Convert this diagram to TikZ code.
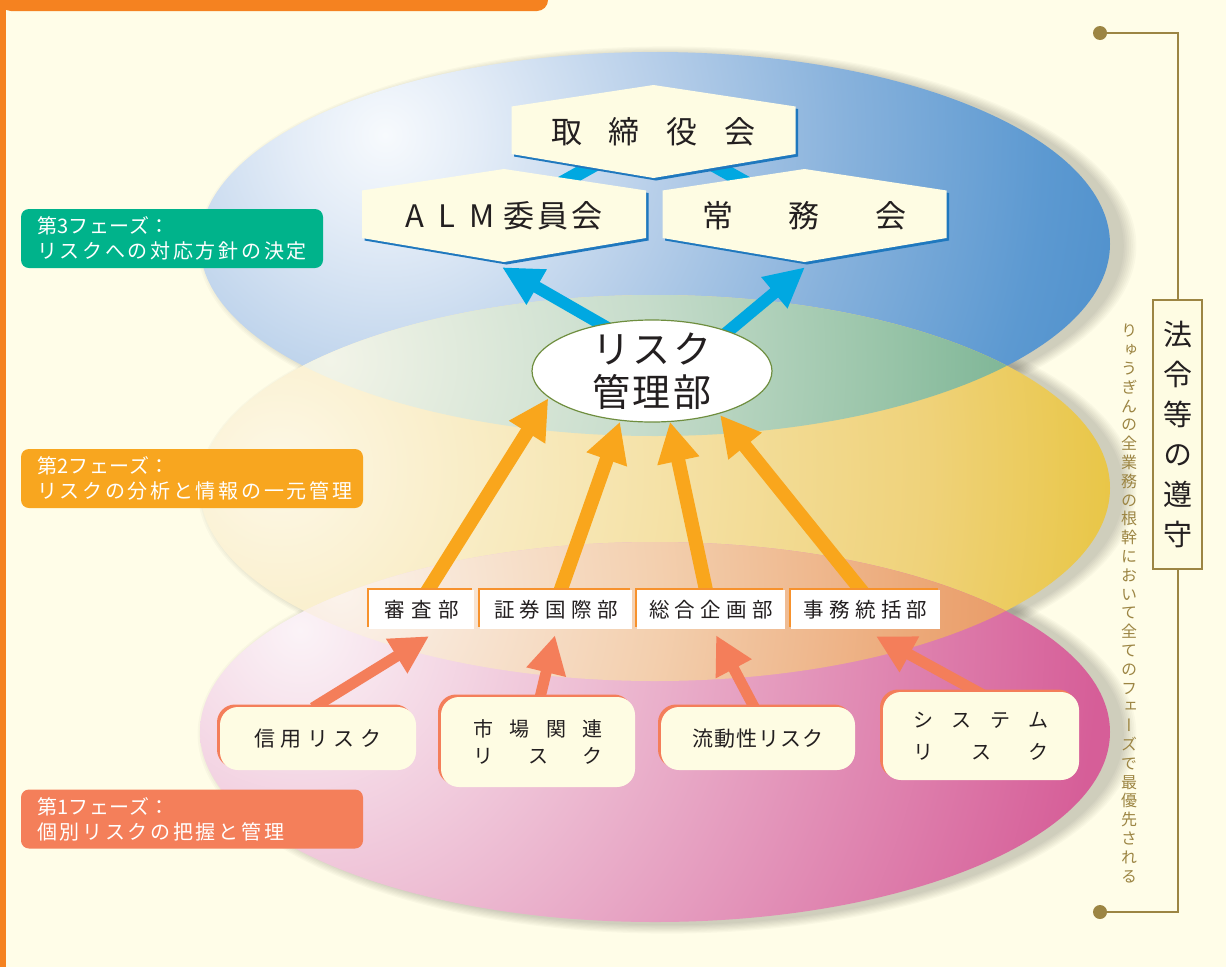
\documentclass[tikz,border=0pt]{standalone}
\usepackage{fontspec}
\setmainfont{Noto Sans CJK JP}
\newfontfamily\vjp[RawFeature=+vert]{Noto Sans CJK JP}
\usetikzlibrary{arrows.meta,shadows,shapes.geometric}

\definecolor{bg}{HTML}{FFFDE8}
\definecolor{ink}{HTML}{231F20}
\definecolor{cream}{HTML}{FEFCE3}
\definecolor{hdr}{HTML}{F58220}
\definecolor{hexblue}{HTML}{1F78BE}
\definecolor{cyanA}{HTML}{00A8E1}
\definecolor{orA}{HTML}{F9A61C}
\definecolor{salA}{HTML}{F47E5A}
\definecolor{deptor}{HTML}{F7922D}
\definecolor{olive}{HTML}{9C8543}
\definecolor{rkline}{HTML}{6F8E3F}
\definecolor{ph3}{HTML}{00B38B}
\definecolor{ph2}{HTML}{F8A61F}
\definecolor{ph1}{HTML}{F47F5A}

\definecolor{b0}{HTML}{F7FAFD}
\definecolor{b1}{HTML}{E3ECF7}
\definecolor{b2}{HTML}{B6CEE9}
\definecolor{b3}{HTML}{88B2DC}
\definecolor{b4}{HTML}{5C99D1}
\definecolor{b5}{HTML}{4A8DCA}
\definecolor{g0}{HTML}{F2F4E8}
\definecolor{g1}{HTML}{C6DCCB}
\definecolor{g2}{HTML}{98C4A8}
\definecolor{g3}{HTML}{66A886}
\definecolor{y0}{HTML}{FDF8E6}
\definecolor{y1}{HTML}{F5E2A8}
\definecolor{y2}{HTML}{EFD27A}
\definecolor{y3}{HTML}{E8C542}
\definecolor{o0}{HTML}{FBF3EC}
\definecolor{o1}{HTML}{F3CFAE}
\definecolor{o2}{HTML}{EBA472}
\definecolor{o3}{HTML}{E68D58}
\definecolor{k0}{HTML}{FBF3F7}
\definecolor{k1}{HTML}{ECB8D0}
\definecolor{k2}{HTML}{E088B2}
\definecolor{k3}{HTML}{D65E98}

% a circle of radius R drawn with \shade maps 25bp to R; all circles use R = 1000 (40 px per bp)
\pgfdeclareradialshading{blueS}{\pgfpointorigin}{color(0bp)=(b0); color(2.4bp)=(b1); color(7bp)=(b2); color(11.5bp)=(b3); color(16.5bp)=(b4); color(20bp)=(b5); color(50bp)=(b5)}
\pgfdeclareradialshading{greenS}{\pgfpointorigin}{color(0bp)=(g0); color(8bp)=(g1); color(14bp)=(g2); color(20bp)=(g3); color(50bp)=(g3)}
\pgfdeclareradialshading{yellowS}{\pgfpointorigin}{color(0bp)=(y0); color(9.3bp)=(y1); color(16.2bp)=(y2); color(21.2bp)=(y3); color(50bp)=(y3)}
\pgfdeclareradialshading{peachS}{\pgfpointorigin}{color(0bp)=(o0); color(8bp)=(o1); color(15.2bp)=(o2); color(20bp)=(o3); color(50bp)=(o3)}
\pgfdeclareradialshading{pinkS}{\pgfpointorigin}{color(0bp)=(k0); color(8bp)=(k1); color(14.4bp)=(k2); color(20bp)=(k3); color(50bp)=(k3)}

\pgfdeclarelayer{bgl}
\pgfdeclarelayer{ell}
\pgfdeclarelayer{conn}
\pgfdeclarelayer{hex}
\pgfsetlayers{bgl,ell,conn,hex,main}

% letter spacing helper
\def\lspA#1{\ifx\relax#1\else#1\expandafter\lspB\fi}
\def\lspB#1{\ifx\relax#1\else\kern\lspk\relax#1\expandafter\lspB\fi}
\newcommand\lsp[2]{\def\lspk{#1}\lspA#2\relax}

\tikzset{
  hexnode/.style={minimum width=284, minimum height=93, inner sep=0pt, font=\fontsize{31}{31}\selectfont, text=ink},
  hexa/.pic={
    \fill[hexblue] (-139.5,-22.5) -- (2.5,-44) -- (144.5,-22.5) -- (144.5,25) -- (2.5,49) -- (-139.5,25) -- cycle;
    \fill[cream] (-142,-25) -- (0,-46.5) -- (142,-25) -- (142,22.5) -- (0,46.5) -- (-142,22.5) -- cycle;
  },
  dept/.style={fill=white, minimum height=39, inner sep=0pt, text=ink, font=\fontsize{20.5}{20.5}\selectfont,
    drop shadow={shadow xshift=-2.5pt, shadow yshift=2.5pt, fill=deptor, opacity=1}},
  risk/.style={fill=cream, rounded corners=18pt, inner sep=0pt, align=center, text=ink, font=\fontsize{21}{21}\selectfont,
    drop shadow={shadow xshift=-3pt, shadow yshift=2.5pt, fill=salA, opacity=1}},
  phase/.style={rounded corners=8pt, text=white, align=left, inner xsep=16pt, inner ysep=0pt, minimum height=59, font=\fontsize{20}{25}\selectfont},
  arrO/.style={draw=orA, line width=14pt, -{Triangle[length=40pt,width=40pt]}},
  arrS/.style={draw=salA, line width=11pt, -{Triangle[length=38pt,width=38pt]}},
  arrB/.style={draw=cyanA, line width=12pt, -{Triangle[length=40pt,width=38pt]}},
  cyanL/.style={draw=cyanA, line width=14pt},
  vtext/.style={align=center, inner sep=0pt, text=olive, font=\vjp\fontsize{16}{18.8}\selectfont},
  dotnode/.style={circle, fill=olive, minimum size=14, inner sep=0pt},
}

\begin{document}
\begin{tikzpicture}[x=1pt,y=-1pt]
\useasboundingbox (0,0) rectangle (1226,967);
\begin{pgfonlayer}{bgl}
  \fill[bg] (0,0) rectangle (1226,967);
\end{pgfonlayer}

% ---------- nodes ----------
\node[hexnode] (tori) at (653.5,131.5) {\lsp{27pt}{取締役会}};
\node[hexnode] (alm) at (504,215.5) {A\kern15pt L\kern14pt M\kern9pt 委\kern3pt 員\kern3pt 会};
\node[hexnode] (jomu) at (804.5,215.5) {\lsp{56pt}{常務会}};

\node[ellipse, fill=white, draw=rkline, line width=1.2pt, minimum width=240, minimum height=102, inner sep=0pt] (rk) at (652,371) {};
\node[font=\fontsize{38}{43}\selectfont, text=ink, align=center, inner sep=0pt] (rkt) at (rk.center) {\lsp{3pt}{リスク}\\\lsp{3pt}{管理部}};

\node[dept, minimum width=105] (shinsa) at (421.5,609.5) {\lsp{6.7pt}{審査部}};
\node[dept, minimum width=152] (shoken) at (556,609.5) {\lsp{5.3pt}{証券国際部}};
\node[dept, minimum width=148] (sogo) at (711,609.5) {\lsp{5.3pt}{総合企画部}};
\node[dept, minimum width=149] (jimu) at (865.5,609.5) {\lsp{5.3pt}{事務統括部}};

\node[risk, minimum width=196, minimum height=63] (shin) at (318,738.5) {\lsp{5.5pt}{信用リスク}};
\node[risk, minimum width=194, minimum height=90, font=\fontsize{20}{27.5}\selectfont] (shijo) at (538,742) {\lsp{16.3pt}{市場関連}\\\lsp{34.5pt}{リスク}};
\node[risk, minimum width=194, minimum height=63] (ryudo) at (758,738.5) {\lsp{1.2pt}{流動性リスク}};
\node[risk, minimum width=196, minimum height=88, font=\fontsize{20}{31.5}\selectfont] (sys) at (981,736) {\lsp{18.3pt}{システム}\\\lsp{37.5pt}{リスク}};

\node[phase, fill=ph3, text width=270pt] (p3) at (172,238.5) {\lsp{0.3pt}{第3フェーズ：}\\\lsp{2.7pt}{リスクへの対応方針の決定}};
\node[phase, fill=ph2, text width=310pt] (p2) at (192,478.5) {\lsp{0.3pt}{第2フェーズ：}\\\lsp{2.7pt}{リスクの分析と情報の一元管理}};
\node[phase, fill=ph1, text width=310pt] (p1) at (192,819) {\lsp{0.3pt}{第1フェーズ：}\\\lsp{2.7pt}{個別リスクの把握と管理}};

\node[draw=olive, line width=2.5pt, fill=cream, minimum width=49, minimum height=269, inner sep=0pt, align=center, text=ink, font=\vjp\fontsize{29}{40}\selectfont] (hb) at (1177.5,434.5) {法\\令\\等\\の\\遵\\守};
\node[vtext] (vt) at (1129,603.5) {り\\ゅ\\う\\ぎ\\ん\\の\\全\\業\\務\\の\\根\\幹\\に\\お\\い\\て\\全\\て\\の\\フ\\ェ\\ー\\ズ\\で\\最\\優\\先\\さ\\れ\\る};
\node[dotnode] (d1) at (1100,33) {};
\node[dotnode] (d2) at (1100,912) {};
\draw[olive, line width=2pt] (d1) -| (hb.north);
\draw[olive, line width=2pt] (d2) -| (hb.south);

% header bar and left rule
\fill[hdr] (0,-1) -- (548,-1) {[rounded corners=11pt] -- (548,11) -- (0,11)} -- cycle;
\fill[hdr] (0,0) rectangle (6,967);

% ---------- hexagon bodies ----------
\begin{pgfonlayer}{hex}
  \pic at (tori.center) {hexa};
  \pic at (alm.center) {hexa};
  \pic at (jomu.center) {hexa};
\end{pgfonlayer}

% ---------- connectors ----------
\begin{pgfonlayer}{conn}
  \draw[cyanL] (tori.center) -- (alm.center);
  \draw[cyanL] (tori.center) -- (jomu.center);
  \draw[arrB] ([shift={(-32,-36)}]rk.center) -- ([shift={(-2,5)}]alm.south);
  \draw[arrB] ([shift={(73,-37)}]rk.center) -- ([shift={(0.5,5)}]jomu.south);
  \draw[arrO] ([shift={(3.5,5)}]shinsa.north) -- ([shift={(-103.7,27.3)}]rk.center);
  \draw[arrO] ([shift={(3,5)}]shoken.north) -- ([shift={(-32,50.7)}]rk.center);
  \draw[arrO] ([shift={(-4,5)}]sogo.north) -- ([shift={(18,50.7)}]rk.center);
  \draw[arrO] ([shift={(-0.7,5)}]jimu.north) -- ([shift={(68,44)}]rk.center);
  \draw[arrS] ([shift={(-5,1)}]shin.north) -- ([shift={(7.5,7)}]shinsa.south);
  \draw[arrS] ([shift={(1,5)}]shijo.north) -- ([shift={(-1,6)}]shoken.south);
  \draw[arrS] ([shift={(-2.5,3)}]ryudo.north) -- ([shift={(5,6)}]sogo.south);
  \draw[arrS] ([shift={(2,3)}]sys.north) -- ([shift={(10.5,7)}]jimu.south);
\end{pgfonlayer}

% ---------- ellipses ----------
\begin{pgfonlayer}{ell}
  \foreach \cy in {244,488,732}{
    \foreach \k in {1,...,8}{
      \fill[black, opacity=0.022] (667,\cy+2) ellipse [x radius={455pt+1.8pt*\k}, y radius={190pt+1.2pt*\k}];
    }
  }
  \begin{scope}
    \clip (655,244) ellipse [x radius=455pt, y radius=192pt];
    \shade[shading=blueS] (385,135) circle [radius=1000pt];
  \end{scope}
  \begin{scope}
    \clip (655,488) ellipse [x radius=455pt, y radius=193pt];
    \shade[shading=yellowS] (280,470) circle [radius=1000pt];
  \end{scope}
  \begin{scope}
    \clip (655,244) ellipse [x radius=455pt, y radius=192pt];
    \clip (655,488) ellipse [x radius=455pt, y radius=193pt];
    \shade[shading=greenS] (330,360) circle [radius=1000pt];
  \end{scope}
  \begin{scope}
    \clip (655,732) ellipse [x radius=455pt, y radius=190pt];
    \shade[shading=pinkS] (300,630) circle [radius=1000pt];
  \end{scope}
  \begin{scope}
    \clip (655,488) ellipse [x radius=455pt, y radius=193pt];
    \clip (655,732) ellipse [x radius=455pt, y radius=190pt];
    \shade[shading=peachS] (340,590) circle [radius=1000pt];
  \end{scope}
\end{pgfonlayer}
\end{tikzpicture}
\end{document}
